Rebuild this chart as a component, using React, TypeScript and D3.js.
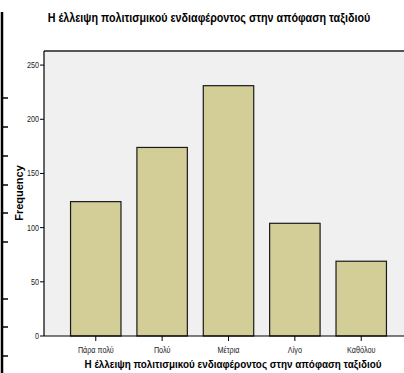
import * as d3 from "d3";

const categories = ["Πάρα πολύ", "Πολύ", "Μέτρια", "Λίγο", "Καθόλου"];
const frequencies = [124, 174, 231, 104, 69];
const yTicks = [0, 50, 100, 150, 200, 250];
const chartTitle = "Η έλλειψη πολιτισμικού ενδιαφέροντος στην απόφαση ταξιδιού";
const xTitle = "Η έλλειψη πολιτισμικού ενδιαφέροντος στην απόφαση ταξιδιού";
const yTitle = "Frequency";
// stray marks on the left page edge
const edgeMarks = [98, 127, 156, 185, 213, 242, 299, 327, 356];

const W = 404;
const H = 373;
const plot = { left: 44, top: 51, right: 413, bottom: 336 };
const font = "'Liberation Sans', Arial, sans-serif";

export default function App() {
  const x = d3
    .scaleBand<string>()
    .domain(categories)
    .range([plot.left, plot.right])
    .paddingInner(0.24)
    .paddingOuter(0.4);

  const y = d3
    .scaleLinear()
    .domain([0, 263])
    .range([plot.bottom, plot.top]);

  return (
    <svg
      width={W}
      height={H}
      style={{ position: "absolute", left: 0, top: 0, background: "#fff" }}
    >
      {/* page edge */}
      <line x1={2} x2={2} y1={12} y2={H} stroke="#000" strokeWidth={2.5} />
      {edgeMarks.map((m) => (
        <line key={m} x1={2} x2={8} y1={m} y2={m} stroke="#000" strokeWidth={1.5} />
      ))}

      <text
        transform="translate(209,22) scale(0.86,1)"
        textAnchor="middle"
        fontFamily={font}
        fontWeight="bold"
        fontSize={12.5}
        fill="#000"
      >
        {chartTitle}
      </text>

      {/* plot background */}
      <rect
        x={plot.left}
        y={plot.top}
        width={plot.right - plot.left}
        height={plot.bottom - plot.top}
        fill="#f0f0f0"
      />
      <line x1={plot.left} x2={W} y1={plot.top} y2={plot.top} stroke="#555" strokeWidth={2} />

      {frequencies.map((v, i) => (
        <rect
          key={categories[i]}
          x={x(categories[i])}
          y={y(v)}
          width={x.bandwidth()}
          height={y(0) - y(v)}
          fill="#d3ce98"
          stroke="#1a1a1a"
          strokeWidth={1.2}
        />
      ))}

      {/* y axis */}
      <line x1={plot.left} x2={plot.left} y1={plot.top} y2={plot.bottom} stroke="#000" strokeWidth={1.2} />
      {yTicks.map((t) => (
        <g key={t}>
          <line x1={plot.left - 4} x2={plot.left} y1={y(t)} y2={y(t)} stroke="#000" />
          <text
            transform={`translate(${plot.left - 5},${y(t)}) scale(0.85,1)`}
            dy="0.35em"
            textAnchor="end"
            fontFamily={font}
            fontSize={8.5}
            fill="#222"
          >
            {t}
          </text>
        </g>
      ))}
      <text
        transform={`translate(23,193) rotate(-90)`}
        textAnchor="middle"
        fontFamily={font}
        fontWeight="bold"
        fontSize={11}
        fill="#000"
      >
        {yTitle}
      </text>

      {/* x axis */}
      <line x1={plot.left} x2={W} y1={plot.bottom} y2={plot.bottom} stroke="#000" strokeWidth={1.2} />
      {categories.map((c) => {
        const cx = (x(c) ?? 0) + x.bandwidth() / 2;
        return (
          <g key={c}>
            <line x1={cx} x2={cx} y1={plot.bottom} y2={plot.bottom + 5} stroke="#000" />
            <text
              transform={`translate(${cx},353) scale(0.85,1)`}
              textAnchor="middle"
              fontFamily={font}
              fontSize={8.5}
              fill="#222"
            >
              {c}
            </text>
          </g>
        );
      })}
      <text
        transform="translate(233,368) scale(0.86,1)"
        textAnchor="middle"
        fontFamily={font}
        fontWeight="bold"
        fontSize={11.5}
        fill="#000"
      >
        {xTitle}
      </text>
    </svg>
  );
}
